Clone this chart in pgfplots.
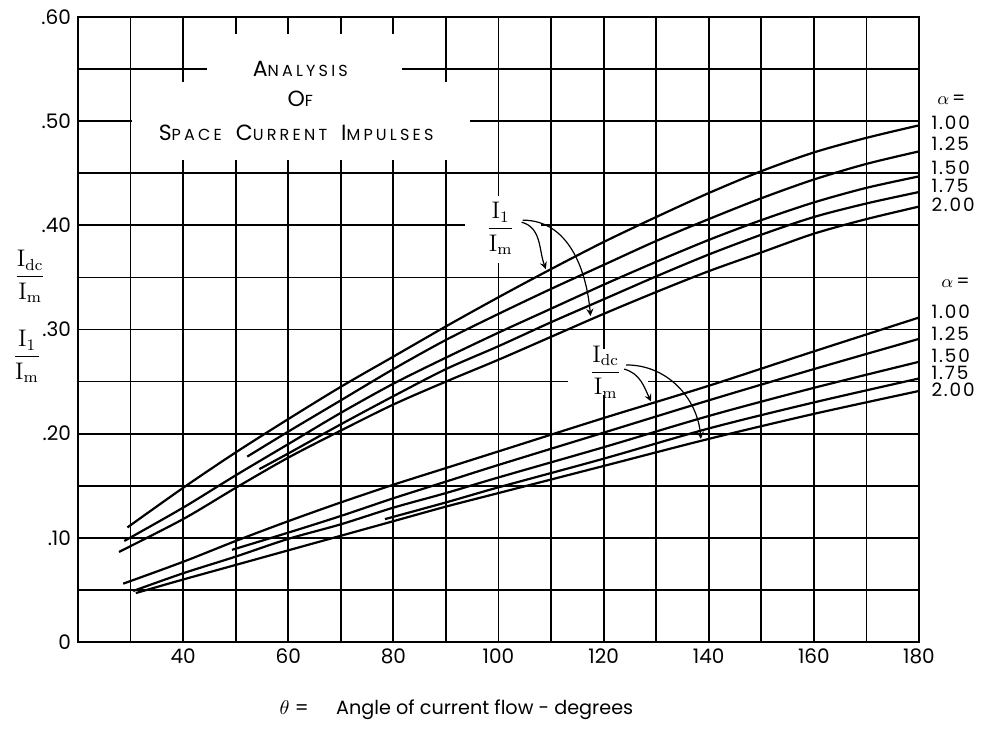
\documentclass[border=0pt]{standalone}
\usepackage{amsmath}
\usepackage{pgfplots}
\pgfplotsset{compat=1.18}
\usepackage[no-math]{fontspec}
\setmainfont{Poppins}
\newfontfamily\spaced[LetterSpace=20]{Poppins}
\newfontfamily\lspaced[LetterSpace=10]{Poppins}
\newcommand\fsc[1]{{\fontsize{8}{9}\selectfont #1}}
\begin{document}
\begin{tikzpicture}
\useasboundingbox (-39pt,-44pt) rectangle (455pt,321pt);
\begin{axis}[
  at={(0pt,0pt)}, anchor=south west,
  scale only axis, width=420.5pt, height=312.5pt,
  xmin=20, xmax=180, ymin=0, ymax=0.6,
  xtick={40,60,80,100,120,140,160,180},
  minor xtick={30,50,70,90,110,130,150,170},
  ytick={0,0.1,0.2,0.3,0.4,0.5,0.6},
  yticklabels={0,.10,.20,.30,.40,.50,.60},
  minor ytick={0.05,0.15,0.25,0.35,0.45,0.55},
  grid=both,
  major grid style={black, line width=0.9pt},
  minor grid style={black, line width=0.9pt},
  axis line style={black, line width=1pt},
  major tick length=0pt, minor tick length=0pt,
  tick label style={font=\fontsize{10}{12}\selectfont},
  /pgf/number format/assume math mode=true,
  clip=false,
  curve/.style={black, solid, line width=1.1pt, smooth, no markers},
]
% white patches interrupting the grid
\fill[white] (axis cs:30.3,0.463) rectangle (axis cs:94.6,0.538);
\fill[white] (axis cs:40.3,0.538) rectangle (axis cs:89.7,0.584);
\draw[line width=0.9pt] (axis cs:40,0.55) -- (axis cs:44.6,0.55);
\draw[line width=0.9pt] (axis cs:81.7,0.55) -- (axis cs:90,0.55);
\fill[white] (axis cs:93.7,0.364) rectangle (axis cs:108,0.428);
\fill[white] (axis cs:113.3,0.237) rectangle (axis cs:128.4,0.281);

% I1/Im curves (alpha = 1.00, 1.25, 1.50, 1.75, 2.00)
\addplot[curve] coordinates {(29.4,.110) (40,.148) (50,.182) (60,.214) (70,.245) (80,.274) (90,.303) (100,.331) (110,.358) (120,.384) (130,.408) (140,.431) (150,.452) (160,.470) (170,.484) (180,.496)};
\addplot[curve] coordinates {(52.2,.178) (60,.202) (70,.232) (80,.262) (90,.290) (100,.315) (110,.339) (120,.362) (130,.385) (140,.406) (150,.426) (160,.444) (170,.459) (180,.471)};
\addplot[curve] coordinates {(28.8,.097) (40,.129) (50,.160) (60,.190) (70,.220) (80,.248) (90,.273) (100,.297) (110,.320) (120,.343) (130,.365) (140,.386) (150,.405) (160,.422) (170,.436) (180,.447)};
\addplot[curve] coordinates {(54.5,.166) (60,.181) (70,.209) (80,.236) (90,.262) (100,.284) (110,.307) (120,.329) (130,.351) (140,.372) (150,.391) (160,.408) (170,.421) (180,.432)};
\addplot[curve] coordinates {(27.8,.0865) (40,.118) (50,.148) (60,.177) (70,.203) (80,.228) (90,.250) (100,.271) (110,.293) (120,.315) (130,.336) (140,.356) (150,.374) (160,.392) (170,.406) (180,.418)};
% Idc/Im curves (alpha = 1.00, 1.25, 1.50, 1.75, 2.00)
\addplot[curve] coordinates {(28.6,.056) (40,.077) (50,.097) (60,.116) (70,.134) (80,.151) (90,.167) (100,.183) (120,.215) (140,.246) (160,.279) (180,.3115)};
\addplot[curve] coordinates {(49.3,.0885) (60,.105) (70,.121) (80,.138) (90,.154) (100,.170) (120,.201) (140,.232) (160,.262) (180,.291)};
\addplot[curve] coordinates {(30.5,.049) (40,.066) (50,.082) (60,.099) (70,.113) (80,.129) (90,.143) (100,.158) (120,.187) (140,.217) (160,.244) (180,.269)};
\addplot[curve] coordinates {(78.4,.118) (90,.134) (100,.1485) (120,.176) (140,.205) (160,.230) (180,.253)};
\addplot[curve] coordinates {(31,.047) (40,.060) (50,.074) (60,.088) (70,.102) (80,.116) (90,.130) (100,.143) (120,.169) (140,.195) (160,.219) (180,.241)};

% title
\node[font=\spaced\fontsize{11}{12}\selectfont] at (axis cs:62.3,0.550) {A\fsc{NALYSIS}};
\node[font=\spaced\fontsize{11}{12}\selectfont] at (axis cs:62.3,0.521) {O\fsc{F}};
\node[font=\spaced\fontsize{11}{12}\selectfont] at (axis cs:61.5,0.489) {S\fsc{PACE}\, C\fsc{URRENT}\, I\fsc{MPULSES}};

% curve labels with arrows
\node[font=\fontsize{12}{14}\selectfont] at (axis cs:100.4,0.397) {$\dfrac{\mathrm{I}_{\mathrm{1}}}{\mathrm{I}_{\mathrm{m}}}$};
\draw[-stealth, line width=0.6pt] (axis cs:104.4,0.403) to[out=-15,in=110] (axis cs:109,0.358);
\draw[-stealth, line width=0.6pt] (axis cs:104.6,0.405) to[out=0,in=95] (axis cs:117.5,0.313);
\node[font=\fontsize{12}{14}\selectfont] at (axis cs:120.4,0.259) {$\dfrac{\mathrm{I}_{\mathrm{dc}}}{\mathrm{I}_{\mathrm{m}}}$};
\draw[-stealth, line width=0.6pt] (axis cs:123.9,0.262) to[out=-15,in=115] (axis cs:129,0.231);
\draw[-stealth, line width=0.6pt] (axis cs:124.3,0.266) to[out=0,in=95] (axis cs:138.5,0.195);

% alpha labels
\begin{scope}[every node/.style={font=\lspaced\fontsize{9.2}{10}\selectfont, anchor=west, inner sep=0pt}]
\node at (axis cs:183.4,0.521) {$\alpha$\,=};
\node at (axis cs:182.3,0.498) {1.00};
\node at (axis cs:182.3,0.478) {1.25};
\node at (axis cs:182.3,0.455) {1.50};
\node at (axis cs:182.3,0.4375) {1.75};
\node at (axis cs:182.3,0.420) {2.00};
\node at (axis cs:184.2,0.345) {$\alpha$\,=};
\node at (axis cs:182.3,0.317) {1.00};
\node at (axis cs:182.3,0.296) {1.25};
\node at (axis cs:182.3,0.275) {1.50};
\node at (axis cs:182.3,0.2585) {1.75};
\node at (axis cs:182.3,0.242) {2.00};
\end{scope}

% y-axis label
\node[font=\fontsize{12}{14}\selectfont] at (axis cs:10.9,0.351) {$\dfrac{\mathrm{I}_{\mathrm{dc}}}{\mathrm{I}_{\mathrm{m}}}$};
\node[font=\fontsize{12}{14}\selectfont] at (axis cs:10.3,0.274) {$\dfrac{\mathrm{I}_{\mathrm{1}}}{\mathrm{I}_{\mathrm{m}}}$};

% x-axis label
\node[font=\fontsize{9.6}{12}\selectfont] at (axis cs:92,-0.0654) {$\theta$ =\quad\, Angle of current flow - degrees};
\end{axis}
\end{tikzpicture}
\end{document}
